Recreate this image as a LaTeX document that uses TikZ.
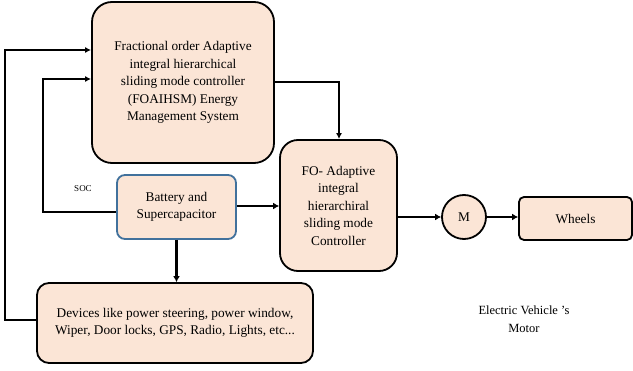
\documentclass[tikz,border=0pt]{standalone}
\usepackage{fontspec}
\setmainfont{Liberation Serif}
\usetikzlibrary{arrows.meta}
\definecolor{peach}{HTML}{FBE5D6}
\definecolor{bblue}{HTML}{41719C}
\begin{document}
\begin{tikzpicture}[x=1pt,y=-1pt,
  blk/.style={draw=black,line width=1.8pt,fill=peach,align=center,font=\fontsize{13.3}{17.5}\selectfont,inner sep=0pt},
  conn/.style={line width=1.5pt,-{Latex[length=6pt,width=6pt]}},
  thk/.style={line width=2.8pt,-{Latex[length=6pt,width=7pt]}}]
\useasboundingbox (0,0) rectangle (633,371);
\node[blk,rounded corners=20pt,minimum width=182pt,minimum height=161pt] (ems) at (183,82.5)
 {Fractional order Adaptive\\integral hierarchical\\sliding mode controller\\(FOAIHSM) Energy\\Management System};
\node[blk,rounded corners=18pt,minimum width=117pt,minimum height=131pt] (fo) at (338.5,205.5)
 {FO- Adaptive\\integral\\hierarchiral\\sliding mode\\Controller};
\node[blk,circle,minimum size=44pt] (m) at (464,217) {M};
\node[blk,rounded corners=5pt,minimum width=113pt,minimum height=43pt] (wh) at (575.5,218.5) {Wheels};
\node[blk,draw=bblue,rounded corners=8pt,minimum width=119pt,minimum height=64pt] (bat) at (176.5,207)
 {Battery and\\Supercapacitor};
\node[blk,rounded corners=12pt,minimum width=276pt,minimum height=80pt] (dev) at (175,323)
 {Devices like power steering, power window,\\Wiper, Door locks, GPS, Radio, Lights, etc...};
\node[font=\fontsize{9}{12}\selectfont] (soc) at (83,189) {SOC};
\node[align=center,font=\fontsize{12.5}{18}\selectfont] (evm) at (524,319) {Electric Vehicle 's\\Motor};
\coordinate (c1) at (339,82);
\draw[conn] (ems.east |- c1) -- (c1) -- (fo.north -| c1);
\draw[thk] (bat.east |- 0,206) -- (fo.west |- 0,206);
\draw[thk] (fo.east |- m) -- (m.west);
\draw[thk] (m.east) -- (wh.west |- m);
\draw[thk] (bat.south) -- (dev.north -| bat.south);
\coordinate (c2) at (43,212);
\coordinate (c3) at (43,79);
\draw[conn] (bat.west |- c2) -- (c2) -- (c3) -- (ems.west |- c3);
\coordinate (c4) at (5,320);
\coordinate (c5) at (5,50);
\draw[conn] (dev.west |- c4) -- (c4) -- (c5) -- (ems.west |- c5);
\end{tikzpicture}
\end{document}
